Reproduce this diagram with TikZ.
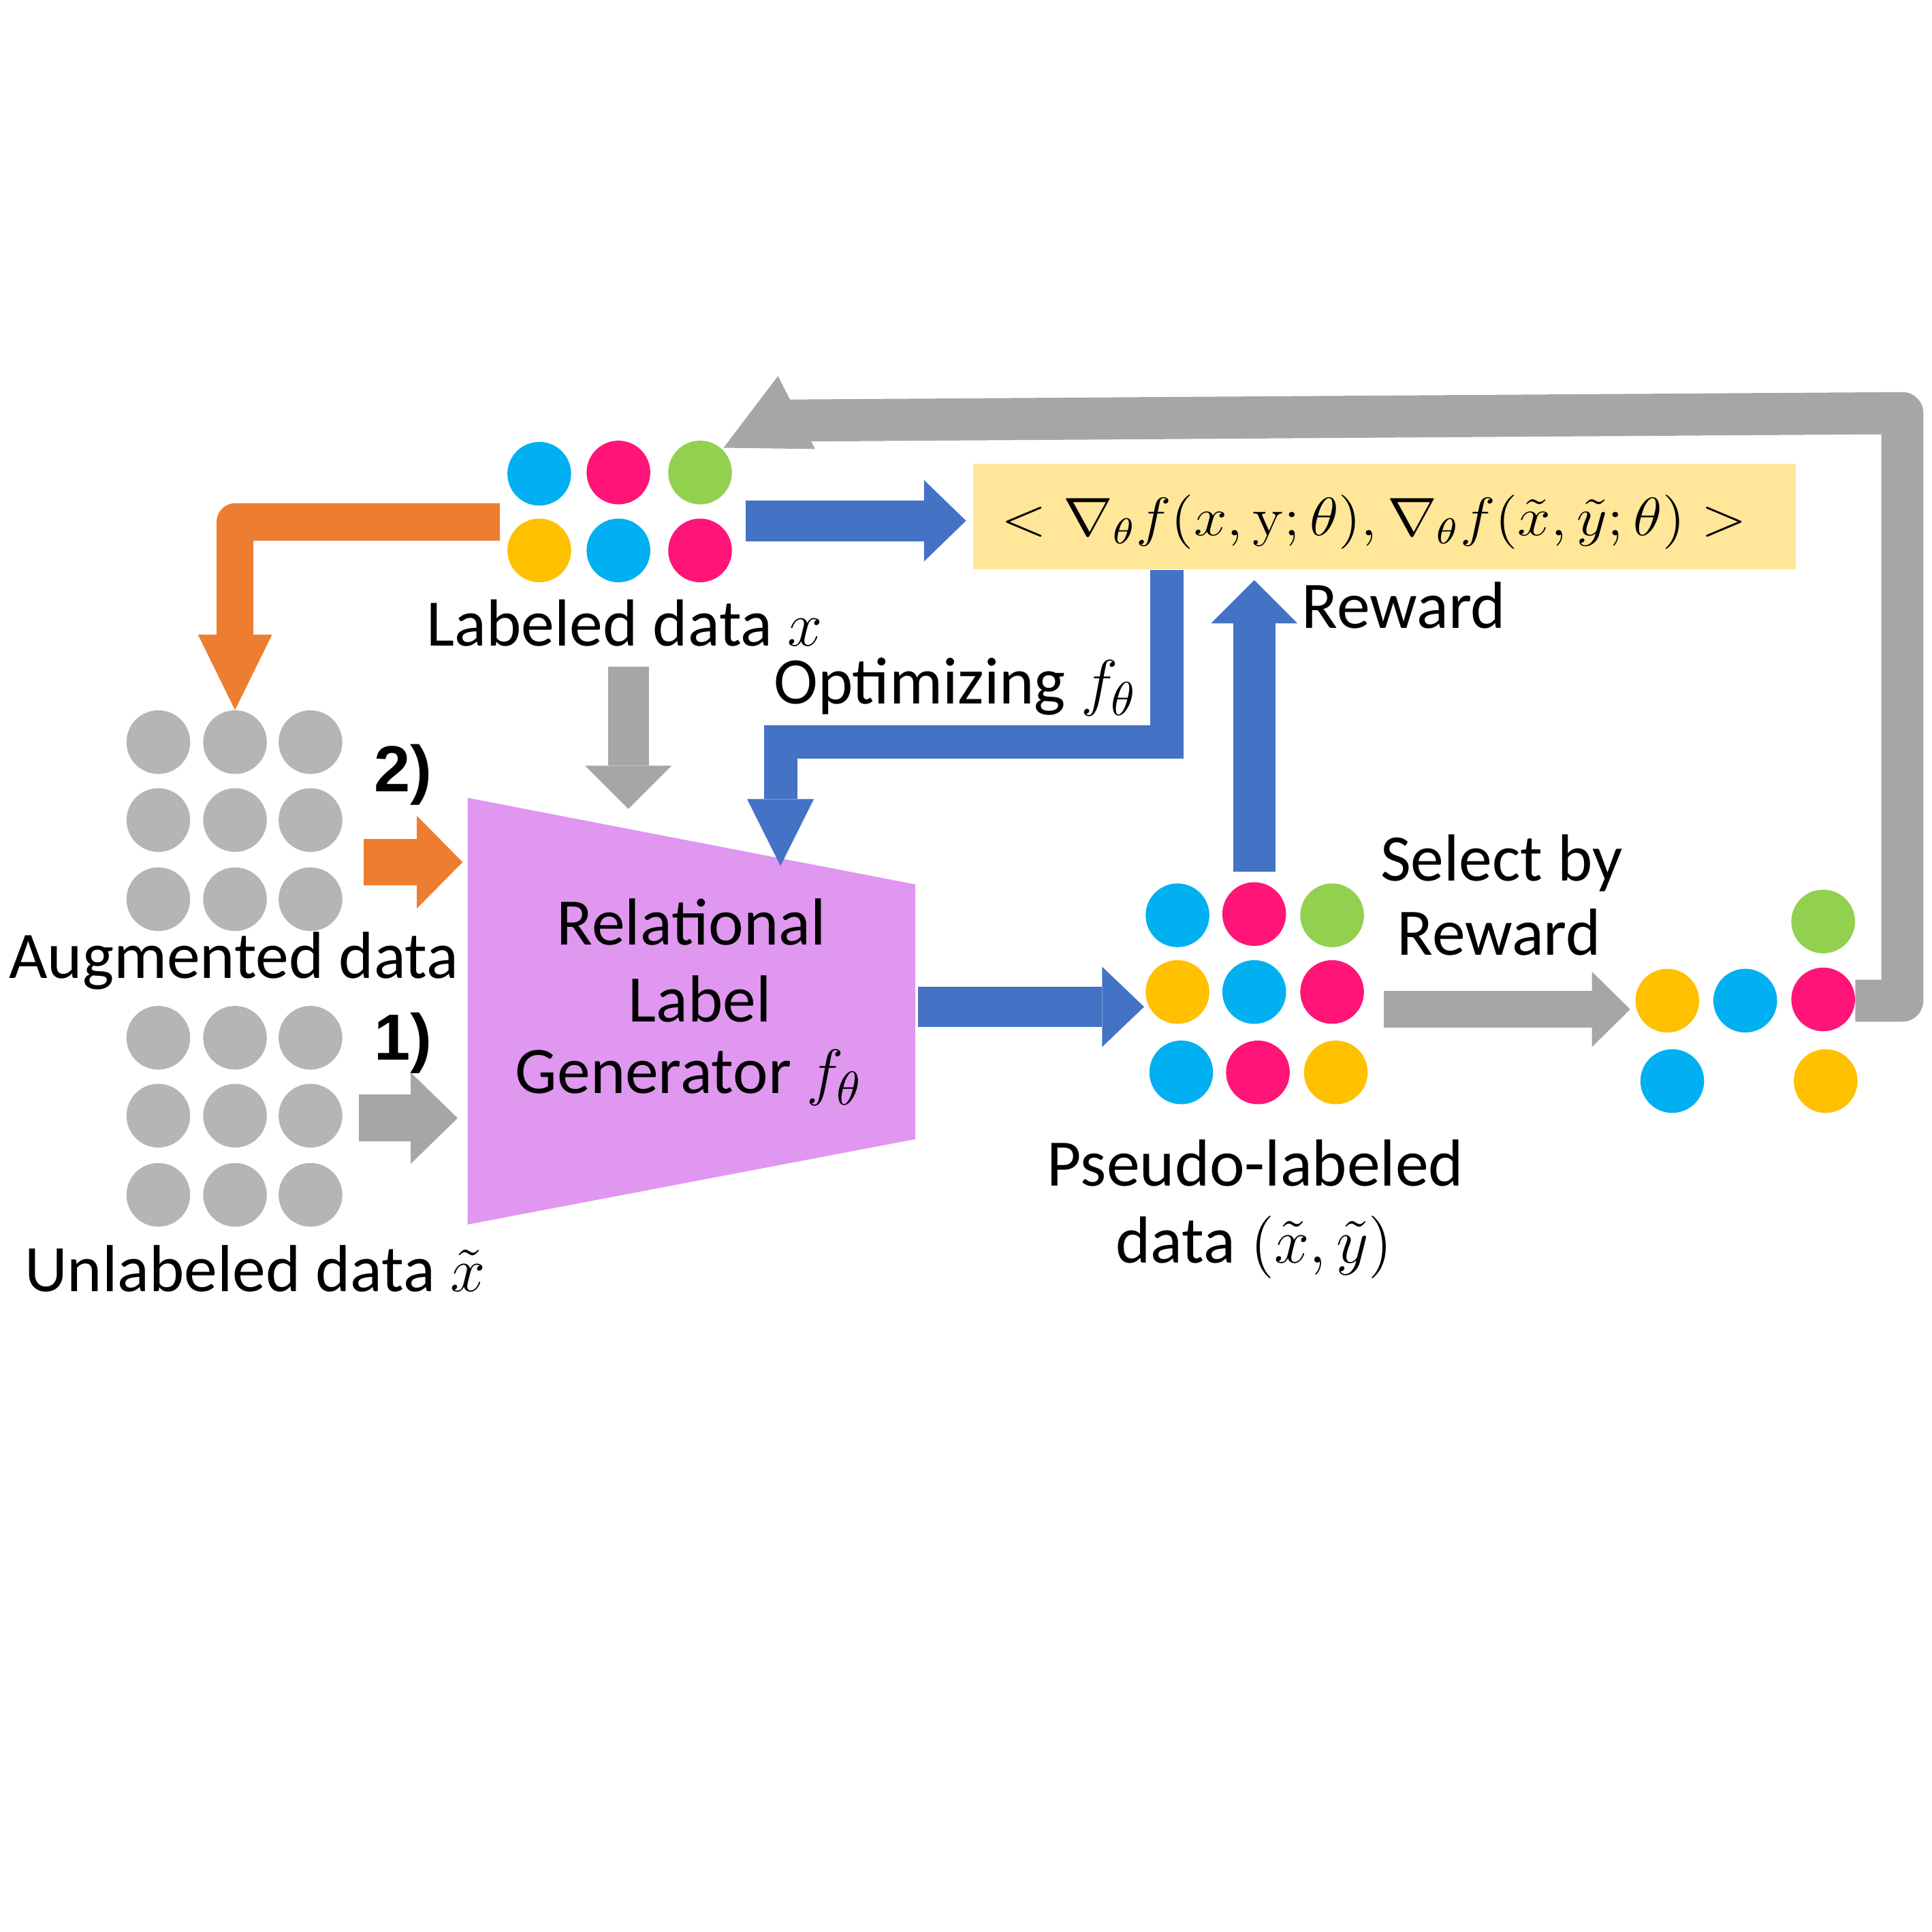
\documentclass[tikz,border=0pt]{standalone}
\usepackage{fontspec}
\setmainfont{Carlito}
\newfontfamily\arialf{Liberation Sans}
\usetikzlibrary{arrows.meta}
\definecolor{ccyan}{HTML}{00B0F0}
\definecolor{cmag}{HTML}{FF1577}
\definecolor{cgreen}{HTML}{92D050}
\definecolor{cyellow}{HTML}{FFC000}
\definecolor{cgraydot}{HTML}{B5B5B5}
\definecolor{cgrayarr}{HTML}{A6A6A6}
\definecolor{corange}{HTML}{ED7D31}
\definecolor{cblue}{HTML}{4472C4}
\definecolor{cbox}{HTML}{FFE699}
\definecolor{cpink}{HTML}{E097F0}
\newcommand{\upy}{\mbox{\fontfamily{lmr}\selectfont y}}
\begin{document}
\begin{tikzpicture}[x=0.1mm,y=-0.1mm,
  dot/.style={circle, inner sep=0pt, minimum size=5.15mm, fill=#1},
  lbl/.style={font=\fontsize{15.3}{17.1}\selectfont, inner sep=0pt, anchor=base},
  numlbl/.style={font=\arialf\bfseries\fontsize{15}{18}\selectfont, inner sep=0pt, anchor=base},
  blockarr/.style n args={4}{draw=#1, line width=#2, line cap=butt,
     -{Triangle[length=#3, width=#4, line width=0pt]}},
]
\useasboundingbox (0,0) rectangle (1562,1562);

% ---------- labeled data cluster ----------
\node[dot=ccyan]   (L1) at (436,383) {};
\node[dot=cmag]    (L2) at (500,382) {};
\node[dot=cgreen]  (L3) at (566,382) {};
\node[dot=cyellow] (L4) at (436,445) {};
\node[dot=ccyan]   (L5) at (500,445) {};
\node[dot=cmag]    (L6) at (566,445) {};
\node[lbl] (labx) at (505,522) {Labeled data $x$};

% ---------- augmented / unlabeled clusters ----------
\foreach \i/\x in {1/128,2/190,3/251}{
  \node[dot=cgraydot] (A1\i) at (\x,600) {};
  \node[dot=cgraydot] (A2\i) at (\x,663) {};
  \node[dot=cgraydot] (A3\i) at (\x,727) {};
  \node[dot=cgraydot] (U1\i) at (\x,839) {};
  \node[dot=cgraydot] (U2\i) at (\x,902) {};
  \node[dot=cgraydot] (U3\i) at (\x,966) {};
}
\node[lbl] (auglbl) at (189,791) {Augmented data};
\node[lbl] (unllbl) at (206,1044) {Unlabeled data $\tilde{x}$};
\node[numlbl] (two) at (326,640) {2)};
\node[numlbl] (one) at (326,857) {1)};

% ---------- generator ----------
\fill[cpink] (378,645) -- (740,715) -- (740,921) -- (378,990) -- cycle;
\node[lbl, anchor=base] (gen1) at (559,764) {Relational};
\node[lbl, anchor=base] (gen2) at (566,826) {Label};
\node[lbl, anchor=base] (gen3) at (557,884) {Generator $f_\theta$};

% ---------- reward box ----------
\node[fill=cbox, minimum width=66.5mm, minimum height=8.5mm, inner sep=0pt] (box) at (1119.5,417.5) {};
\node[inner sep=0pt, font=\fontsize{12}{14}\selectfont] (formula) at (1111,422)
  {\scalebox{1.14}[1.04]{$<\nabla_\theta f(x,\upy;\theta),\nabla_\theta f(\tilde{x},\tilde{y};\theta)>$}};

% ---------- pseudo-labeled cluster ----------
\node[dot=ccyan]   (P1) at (952,740) {};
\node[dot=cmag]    (P2) at (1014,739) {};
\node[dot=cgreen]  (P3) at (1077,740) {};
\node[dot=cyellow] (P4) at (952,802) {};
\node[dot=ccyan]   (P5) at (1014,802) {};
\node[dot=cmag]    (P6) at (1077,802) {};
\node[dot=ccyan]   (P7) at (955,867) {};
\node[dot=cmag]    (P8) at (1017,867) {};
\node[dot=cyellow] (P9) at (1080,867) {};
\node[lbl] (plab1) at (1015,959) {Pseudo-labeled};
\node[lbl] (plab2) at (1014,1021) {data $(\tilde{x},\tilde{y})$};

% ---------- selected cluster ----------
\node[dot=cgreen]  (S1) at (1474,745) {};
\node[dot=cyellow] (S2) at (1348,809) {};
\node[dot=ccyan]   (S3) at (1411,809) {};
\node[dot=cmag]    (S4) at (1474,808) {};
\node[dot=ccyan]   (S5) at (1352,874) {};
\node[dot=cyellow] (S6) at (1476,874) {};

\node[lbl] (sel1) at (1214,712) {Select by};
\node[lbl] (sel2) at (1212,772) {Reward};
\node[lbl, anchor=base west] (rew) at (1052,508) {Reward};
\node[lbl, anchor=base west] (opt) at (625,569) {Optimizing $f_\theta$};

% ---------- arrow end coordinates ----------
\coordinate (o1s) at (404,422);   \coordinate (o1e) at (190,574);
\coordinate (b1s) at (603,421);   \coordinate (b1e) at (781,421);
\coordinate (g1s) at (508,539);   \coordinate (g1e) at (508,654);
\coordinate (ops) at (943.5,461); \coordinate (ope) at (631,700);
\coordinate (rws) at (1014,705);  \coordinate (rwe) at (1014,469);
\coordinate (gps) at (742,814);   \coordinate (gpe) at (925,814);
\coordinate (sls) at (1119,816);  \coordinate (sle) at (1318,816);
\coordinate (a2s) at (294,697);   \coordinate (a2e) at (374,697);
\coordinate (a1s) at (290,904);   \coordinate (a1e) at (370,904);
\coordinate (lps) at (1500,809);  \coordinate (lpe) at (638,340);

% ---------- arrows ----------
\draw[blockarr={corange}{3mm}{6.1mm}{6.0mm}, line join=round] (o1s) -| (o1e);
\draw[blockarr={cblue}{3.3mm}{3.4mm}{6.6mm}] (b1s) -- (b1e);
\draw[blockarr={cgrayarr}{3.3mm}{3.5mm}{7.0mm}] (g1s) -- (g1e);
\draw[blockarr={cblue}{2.7mm}{5.4mm}{5.4mm}] (ops) |- (631,600) -- (ope);
\draw[blockarr={cblue}{3.4mm}{3.5mm}{7.0mm}] (rws) -- (rwe);
\draw[blockarr={cblue}{3.2mm}{3.4mm}{6.5mm}] (gps) -- (gpe);
\draw[blockarr={cgrayarr}{3.0mm}{3.1mm}{6.1mm}] (sls) -- (sle);
\draw[blockarr={corange}{3.7mm}{3.7mm}{7.5mm}] (a2s) -- (a2e);
\draw[blockarr={cgrayarr}{3.8mm}{3.8mm}{7.4mm}] (a1s) -- (a1e);

% loop back arrow
\draw[cgrayarr, line width=3.4mm, line cap=butt, line join=round]
  (lps) -- (1538,809) -- (1538,334) -- (lpe);
\fill[cgrayarr] (629,304) -- (585,362) -- (659,363) -- cycle;
\end{tikzpicture}
\end{document}
